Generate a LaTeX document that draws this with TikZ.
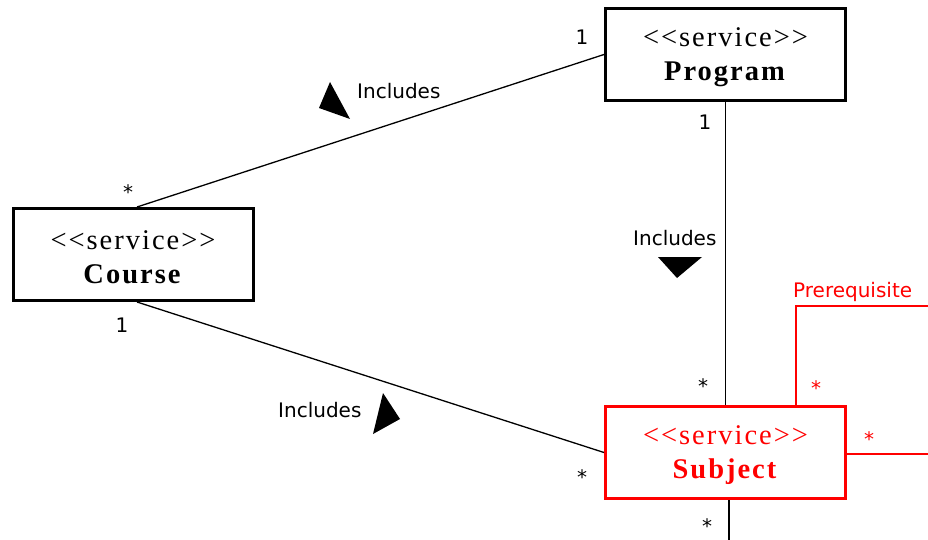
\documentclass[tikz,border=0pt]{standalone}
\usepackage{fontspec}
\setmainfont{Liberation Serif}
\newfontfamily\boxfont[LetterSpace=7]{Liberation Serif}
\newfontfamily\labfont{DejaVu Sans}
\newcommand{\topstrut}{\rule{0pt}{25pt}}
\begin{document}
\begin{tikzpicture}[x=1pt,y=-1pt,
  svc/.style={draw, line width=3pt, minimum width=240pt, minimum height=92pt,
    inner sep=0pt, align=center, font=\boxfont\fontsize{28.5}{34}\selectfont},
  lab/.style={font=\labfont\fontsize{20}{24}\selectfont, inner sep=0pt, anchor=base},
  conn/.style={line width=1.3pt},
  redconn/.style={conn, draw=red},
  tri/.style={fill=black}]
\useasboundingbox (0,0) rectangle (928,540);
\fill[white] (0,0) rectangle (928,540);
\clip (0,0) rectangle (928,540);

\node[svc] (prog) at (725.5,54.5) {\topstrut<<service>>\\\textbf{Program}};
\node[svc] (course) at (133,254.5) {\topstrut<<service>>\\\textbf{Course}};
\node[svc, draw=red, text=red] (subj) at (725.5,452.5) {\topstrut<<service>>\\\textbf{Subject}};

\draw[conn] ([xshift=4pt]course.north) -- (prog.west);
\draw[conn] ([xshift=4pt]course.south) -- (subj.west);
\draw[conn] (prog.south) -- (subj.north);
\coordinate (bot) at (729,540);
\draw[conn] (subj.south -| bot) -- (bot);

\coordinate (preR) at (928,306);
\coordinate (preL) at (796,306);
\draw[redconn] (subj.north -| preL) -- (preL) -- (preR);
\coordinate (selfR) at (928,454);
\draw[redconn] (subj.east |- selfR) -- (selfR);

\fill[tri] (330,82) -- (319,108) -- (350,119) -- cycle;
\fill[tri] (383,393) -- (400,419) -- (373,434) -- cycle;
\fill[tri] (658,257) -- (702,257) -- (677,278) -- cycle;

\node[lab, anchor=base west] (inc1) at (357,99) {Includes};
\node[lab, anchor=base west] (inc2) at (278,417) {Includes};
\node[lab, anchor=base west] (inc3) at (633,245) {Includes};
\node[lab, text=red, anchor=base west] (pre) at (793,297) {Prerequisite};

\node[lab] (m1) at (582,45) {1};
\node[lab] (m2) at (705,130) {1};
\node[lab] (m3) at (122,332) {1};
\node[lab] (s1) at (128,200) {*};
\node[lab] (s2) at (703,393) {*};
\node[lab, text=red] (s3) at (816,395) {*};
\node[lab, text=red] (s4) at (869,446) {*};
\node[lab] (s5) at (582,484) {*};
\node[lab] (s6) at (707,533) {*};
\end{tikzpicture}
\end{document}
